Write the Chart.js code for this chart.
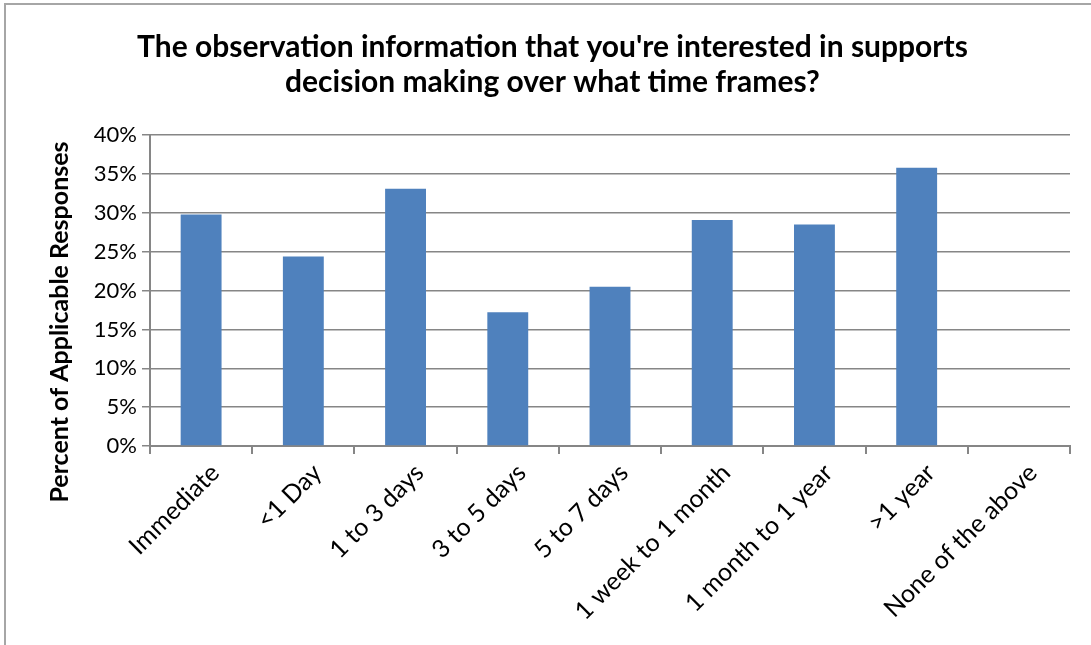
<!DOCTYPE html>
<html>
<head>
<meta charset="utf-8">
<script src="https://cdn.jsdelivr.net/npm/chart.js@4"></script>
<style>
  html, body { margin: 0; padding: 0; background: #fff; }
  #wrap { width: 1091px; height: 645px; }
</style>
</head>
<body>
<div id="wrap"><canvas id="barChart"></canvas></div>
<script>
// data
const categories = ["Immediate", "<1 Day", "1 to 3 days", "3 to 5 days", "5 to 7 days",
  "1 week to 1 month", "1 month to 1 year", ">1 year", "None of the above"];
const percentResponses = [29.8, 24.4, 33.1, 17.2, 20.5, 29.1, 28.5, 35.8, 0];
const yTicks = [0, 5, 10, 15, 20, 25, 30, 35, 40];

const titleLines = ["The observation information that you're interested in supports",
  "decision making over what time frames?"];
const yTitle = "Percent of Applicable Responses";

const FONT = "Lato, 'Open Sans', sans-serif";
const GRID = "#868686";

// outer frame + rotated y axis title
const framePlugin = {
  id: "frame",
  afterDraw(chart) {
    const ctx = chart.ctx;
    ctx.save();
    ctx.strokeStyle = "#a6a6a6";
    ctx.lineWidth = 2;
    ctx.beginPath();
    ctx.moveTo(5, 645);
    ctx.lineTo(5, 4);
    ctx.lineTo(1091, 4);
    ctx.stroke();

    ctx.translate(60, 322);
    ctx.rotate(-Math.PI / 2);
    ctx.font = "bold 25px " + FONT;
    ctx.fillStyle = "#000";
    ctx.textAlign = "center";
    ctx.textBaseline = "middle";
    ctx.fillText(yTitle, 0, 0);
    ctx.restore();
  }
};

new Chart(document.getElementById("barChart"), {
  type: "bar",
  data: {
    labels: categories,
    datasets: [{
      label: "Percent",
      data: percentResponses,
      backgroundColor: "#4f81bd",
      borderWidth: 0,
      barPercentage: 0.4,
      categoryPercentage: 1.0
    }]
  },
  options: {
    responsive: true,
    maintainAspectRatio: false,
    animation: false,
    layout: { padding: { left: 35, right: 21, top: 0, bottom: 0 } },
    plugins: {
      legend: { display: false },
      tooltip: { enabled: false },
      title: {
        display: true,
        text: titleLines,
        color: "#000",
        font: { family: FONT, size: 30, weight: "bold", lineHeight: 1.17 },
        padding: { top: 30, bottom: 35 }
      }
    },
    scales: {
      x: {
        afterFit(scale) { scale.height = 199; },
        grid: {
          display: true,
          drawOnChartArea: false,
          drawTicks: true,
          tickLength: 8,
          color: GRID,
          lineWidth: 2,
          offset: true
        },
        border: { color: GRID, width: 2 },
        ticks: {
          color: "#000",
          font: { family: FONT, size: 25 },
          maxRotation: 45,
          minRotation: 45,
          padding: 4,
          labelOffset: 14,
          autoSkip: false
        }
      },
      y: {
        afterFit(scale) { scale.width = 115; },
        min: 0,
        max: 40,
        afterBuildTicks(scale) { scale.ticks = yTicks.map(v => ({ value: v })); },
        grid: {
          color: GRID,
          lineWidth: 1.5,
          drawTicks: true,
          tickLength: 8
        },
        border: { color: GRID, width: 2 },
        ticks: {
          color: "#000",
          font: { family: FONT, size: 22 },
          padding: 5,
          callback: v => v + "%"
        }
      }
    }
  },
  plugins: [framePlugin]
});
</script>
</body>
</html>
